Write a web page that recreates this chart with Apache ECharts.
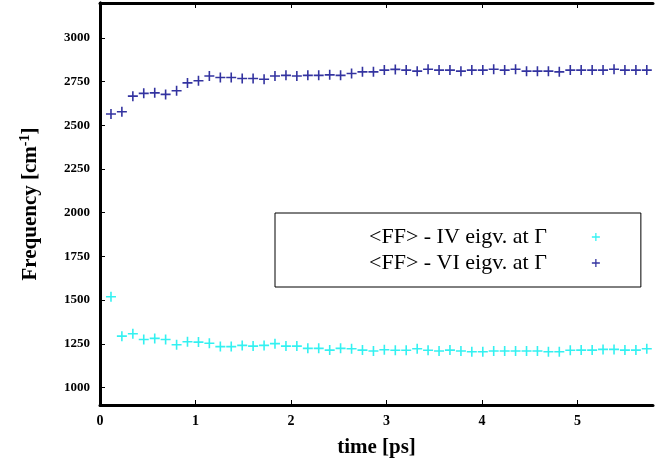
<!DOCTYPE html>
<html>
<head>
<meta charset="utf-8">
<script src="https://cdn.jsdelivr.net/npm/echarts@6/dist/echarts.min.js"></script>
<style>
  html, body { margin: 0; padding: 0; background: #fff; }
  #chart { width: 670px; height: 464px; }
</style>
</head>
<body>
<div id="chart"></div>
<script>
// Simulation time of each sample [ps]
const timePs = [
  0.115, 0.229, 0.344, 0.458, 0.573, 0.687, 0.802, 0.916, 1.031, 1.145,
  1.260, 1.374, 1.489, 1.603, 1.718, 1.832, 1.947, 2.061, 2.176, 2.290,
  2.405, 2.519, 2.634, 2.748, 2.863, 2.977, 3.092, 3.206, 3.321, 3.435,
  3.550, 3.664, 3.779, 3.893, 4.008, 4.122, 4.237, 4.351, 4.466, 4.580,
  4.695, 4.809, 4.924, 5.038, 5.153, 5.267, 5.382, 5.496, 5.611, 5.725
];

// <FF> - IV eigenvalue at Gamma [cm^-1]
const freqIV = [
  1519, 1294, 1308, 1275, 1281, 1275, 1245, 1262, 1260, 1253,
  1234, 1234, 1241, 1237, 1241, 1251, 1237, 1237, 1224, 1224,
  1214, 1224, 1222, 1214, 1209, 1216, 1213, 1213, 1222, 1213,
  1209, 1214, 1209, 1205, 1205, 1209, 1209, 1209, 1209, 1209,
  1205, 1205, 1213, 1214, 1214, 1218, 1218, 1214, 1214, 1222
];

// <FF> - VI eigenvalue at Gamma [cm^-1]
const freqVI = [
  2565, 2578, 2667, 2683, 2686, 2677, 2698, 2743, 2755, 2782,
  2774, 2774, 2768, 2768, 2764, 2782, 2786, 2782, 2786, 2786,
  2789, 2786, 2797, 2806, 2806, 2816, 2820, 2816, 2810, 2821,
  2816, 2816, 2810, 2816, 2816, 2821, 2816, 2821, 2810, 2810,
  2810, 2806, 2816, 2816, 2816, 2816, 2821, 2816, 2816, 2816
];

const seriesNames = ['<FF> - IV eigv. at \u0393', '<FF> - VI eigv. at \u0393'];
const seriesColors = ['#00eeee', '#000088'];

const xTicks = [0, 1, 2, 3, 4, 5];
const yTicks = [1000, 1250, 1500, 1750, 2000, 2250, 2500, 2750, 3000];

// thin "+" glyph used for every point
const plusPath = 'path://M4.2,0H5.8V4.2H10V5.8H5.8V10H4.2V5.8H0V4.2H4.2Z';
const serif = '"Liberation Serif", "DejaVu Serif", serif';

const pairs = (xs, ys) => xs.map((x, i) => [x, ys[i]]);

const chart = echarts.init(document.getElementById('chart'), null, { renderer: 'canvas' });

const frameLine = { show: true, lineStyle: { color: '#000', width: 3 } };

chart.setOption({
  backgroundColor: '#fff',
  animation: false,
  grid: { left: 100, right: 17, top: 3, bottom: 59, containLabel: false },
  legend: {
    left: 275,
    top: 213,
    orient: 'vertical',
    align: 'right',
    padding: [13, 41, 13, 94],
    itemGap: 4,
    itemWidth: 8,
    itemHeight: 8,
    borderColor: '#000',
    borderWidth: 1,
    borderRadius: 0,
    icon: plusPath,
    textStyle: { fontFamily: serif, fontSize: 22, color: '#000', padding: [0, 40, 0, 0] },
    data: seriesNames
  },
  xAxis: [
    {
      type: 'value',
      min: 0,
      max: 5.79,
      position: 'bottom',
      name: 'time [ps]',
      nameLocation: 'middle',
      nameGap: 32,
      nameTextStyle: { fontFamily: serif, fontSize: 21, fontWeight: 'bold', color: '#000' },
      axisLine: frameLine,
      axisTick: { show: true, inside: true, length: 5, customValues: xTicks, lineStyle: { color: '#000', width: 1 } },
      axisLabel: { customValues: xTicks, fontFamily: serif, fontSize: 14, fontWeight: 'bold', color: '#000', margin: 9 },
      splitLine: { show: false }
    },
    {
      type: 'value',
      min: 0,
      max: 5.79,
      position: 'top',
      axisLine: frameLine,
      axisTick: { show: true, inside: true, length: 5, customValues: xTicks, lineStyle: { color: '#000', width: 1 } },
      axisLabel: { show: false },
      splitLine: { show: false }
    }
  ],
  yAxis: [
    {
      type: 'value',
      min: 900,
      max: 3200,
      position: 'left',
      name: '{b|Frequency [cm}{s|-1}{b|]}',
      nameLocation: 'middle',
      nameRotate: 90,
      nameGap: 56,
      nameTextStyle: {
        rich: {
          b: { fontFamily: serif, fontSize: 21, fontWeight: 'bold', color: '#000' },
          s: { fontFamily: serif, fontSize: 14, fontWeight: 'bold', color: '#000', verticalAlign: 'top', padding: [0, 0, 12, 0] }
        }
      },
      axisLine: frameLine,
      axisTick: { show: true, inside: true, length: 5, customValues: yTicks, lineStyle: { color: '#000', width: 1 } },
      axisLabel: {
        customValues: yTicks,
        formatter: (v) => String(v),
        fontFamily: serif, fontSize: 13, fontWeight: 'bold', color: '#000', margin: 10
      },
      splitLine: { show: false }
    },
    {
      type: 'value',
      min: 900,
      max: 3200,
      position: 'right',
      axisLine: frameLine,
      axisTick: { show: false },
      axisLabel: { show: false },
      splitLine: { show: false }
    }
  ],
  series: [
    {
      name: seriesNames[0],
      type: 'scatter',
      symbol: plusPath,
      symbolSize: 10,
      itemStyle: { color: seriesColors[0] },
      data: pairs(timePs, freqIV)
    },
    {
      name: seriesNames[1],
      type: 'scatter',
      symbol: plusPath,
      symbolSize: 10,
      itemStyle: { color: seriesColors[1] },
      data: pairs(timePs, freqVI)
    }
  ]
});
</script>
</body>
</html>
